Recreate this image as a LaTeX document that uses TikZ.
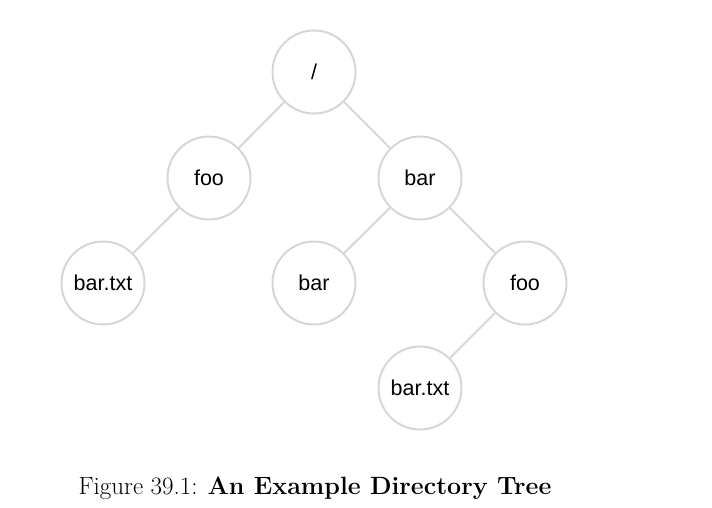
\documentclass[tikz,border=0pt]{standalone}
\usepackage{fontspec}
\setsansfont{Liberation Sans}
\usepackage{tikz}
\usetikzlibrary{positioning,calc,shapes}
\definecolor{LightGray}{RGB}{214,214,214}

\begin{document}
\begin{tikzpicture}[x=1pt,y=-1pt,
	dirnode/.style={circle,draw=LightGray,line width=2pt,minimum size=83pt,
	inner sep=0pt,font=\sffamily\fontsize{21.5}{25}\selectfont},
	dirlink/.style={draw=LightGray,line width=2pt}]
			\useasboundingbox (0,0) rectangle (712,508);
			% the tree
			\node [dirnode, name = root] at (314,72) {/};
			\node [dirnode, name = foo] at (209,178) {foo};
			\node [dirnode, name = bar] at (420,178) {bar};
			\node [dirnode, name = bartxt] at (103,283) {bar.txt};
			\node [dirnode, name = barbar] at (314,283) {bar};
			\node [dirnode, name = barfoo] at (525,283) {foo};
			\node [dirnode, name = barfootxt] at (420,388) {bar.txt};
			\draw [dirlink] (root) -- (foo);
			\draw [dirlink] (root) -- (bar);
			\draw [dirlink] (foo) -- (bartxt);
			\draw [dirlink] (bar) -- (barbar);
			\draw [dirlink] (bar) -- (barfoo);
			\draw [dirlink] (barfoo) -- (barfootxt);
			% caption
			\node [font=\fontsize{25}{29}\selectfont, name = caption] at (315,488)
			{Figure 39.1: \textbf{An Example Directory Tree}};
		\end{tikzpicture}
\end{document}
